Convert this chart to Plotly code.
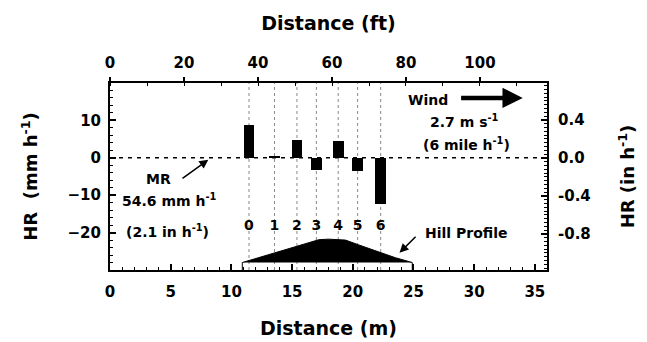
import plotly.graph_objects as go

# ---------------- data ----------------
bar_labels = ["0", "1", "2", "3", "4", "5", "6"]
bar_x_m = [11.45, 13.55, 15.4, 17.0, 18.8, 20.4, 22.3]
hr_mm_h = [8.7, 0.3, 4.8, -3.2, 4.4, -3.5, -12.4]

hill_x_m = [10.9, 12.5, 14.0, 15.5, 16.5, 17.2, 18.0, 18.8, 19.4, 20.5, 22.0, 23.5, 24.9]
hill_y = [-28.0, -26.4, -24.9, -23.4, -22.4, -21.9, -21.75, -21.8, -22.0, -23.3, -25.1, -26.7, -28.0]

x_m_ticks = [0, 5, 10, 15, 20, 25, 30, 35]
x_ft_ticks = [0, 20, 40, 60, 80, 100]
y_mm_ticks = [-20, -10, 0, 10]
y_in_ticks = [-0.8, -0.4, 0.0, 0.4]
y_in_labels = ["-0.8", "-0.4", "0.0", "0.4"]

x_range_m = [0, 36]
y_range_mm = [-30, 20]
M_PER_FT = 0.3048
MM_PER_IN = 25.4

FONT = "DejaVu Sans"
BLACK = "black"

fig = go.Figure()

# hill profile
fig.add_trace(go.Scatter(
    x=hill_x_m, y=hill_y, mode="lines", fill="toself",
    fillcolor=BLACK, line=dict(color=BLACK, width=1),
    hoverinfo="skip", showlegend=False))
# hill base edges down to ground
fig.add_trace(go.Scatter(
    x=[hill_x_m[0], hill_x_m[0], None, hill_x_m[-1], hill_x_m[-1]],
    y=[hill_y[0], y_range_mm[0], None, hill_y[-1], y_range_mm[0]],
    mode="lines", line=dict(color=BLACK, width=1),
    hoverinfo="skip", showlegend=False))

# bars
fig.add_trace(go.Bar(
    x=bar_x_m, y=hr_mm_h, width=0.88, marker=dict(color=BLACK, line=dict(width=0)),
    showlegend=False))

# bar number labels
fig.add_trace(go.Scatter(
    x=bar_x_m, y=[-18.4] * len(bar_x_m), mode="text", text=bar_labels,
    textfont=dict(family=FONT, size=14, color=BLACK, weight="bold"),
    hoverinfo="skip", showlegend=False))

# invisible trace to activate secondary axes (ft / in h-1)
fig.add_trace(go.Scatter(
    x=[b / M_PER_FT for b in bar_x_m], y=[v / MM_PER_IN for v in hr_mm_h],
    xaxis="x2", yaxis="y2", mode="markers", marker=dict(opacity=0),
    hoverinfo="skip", showlegend=False))

shapes = []
for bx in bar_x_m:
    shapes.append(dict(type="line", xref="x", yref="paper", x0=bx, x1=bx, y0=0, y1=1,
                       line=dict(color="#888888", width=1, dash="dot"), layer="below"))
shapes.append(dict(type="line", xref="paper", yref="y", x0=0, x1=1, y0=0, y1=0,
                   line=dict(color=BLACK, width=1.5, dash="4px,5px"), layer="below"))

ann_font = dict(family=FONT, size=14, color=BLACK, weight="bold")
annotations = [
    # MR
    dict(x=8.1, y=-0.5, ax=5.85, ay=-5.8, axref="x", ayref="y", xref="x", yref="y",
         text="", showarrow=True, arrowhead=2, arrowsize=1.2, arrowwidth=1.5, arrowcolor=BLACK),
    dict(x=5.15, y=-5.6, xref="x", yref="y", text="MR", showarrow=False,
         xanchor="right", font=ann_font),
    dict(x=4.9, y=-11.3, xref="x", yref="y", text="54.6 mm h<sup>-1</sup>", showarrow=False,
         font=ann_font),
    dict(x=4.7, y=-19.5, xref="x", yref="y", text="(2.1 in h<sup>-1</sup>)", showarrow=False,
         font=ann_font),
    # Wind
    dict(x=26.2, y=15.4, xref="x", yref="y", text="Wind", showarrow=False, font=ann_font),
    dict(x=34.0, y=16.0, ax=28.8, ay=16.0, axref="x", ayref="y", xref="x", yref="y",
         text="", showarrow=True, arrowhead=2, arrowsize=0.9, arrowwidth=4.5, arrowcolor=BLACK),
    dict(x=29.2, y=9.9, xref="x", yref="y", text="2.7 m s<sup>-1</sup>", showarrow=False,
         font=ann_font),
    dict(x=29.4, y=3.7, xref="x", yref="y", text="(6 mile h<sup>-1</sup>)", showarrow=False,
         font=ann_font),
    # Hill profile
    dict(x=29.3, y=-20.2, xref="x", yref="y", text="Hill Profile", showarrow=False,
         font=ann_font),
    dict(x=23.85, y=-25.4, ax=25.3, ay=-20.7, axref="x", ayref="y", xref="x", yref="y",
         text="", showarrow=True, arrowhead=2, arrowsize=1.2, arrowwidth=1.5, arrowcolor=BLACK),
]

tickfont = dict(family=FONT, size=15, color=BLACK, weight="bold")
xtitlefont = dict(family=FONT, size=19, color=BLACK, weight="bold")
ytitlefont = dict(family=FONT, size=18, color=BLACK, weight="bold")

common = dict(showgrid=False, zeroline=False, showline=True, linecolor=BLACK, linewidth=2,
              tickcolor=BLACK, tickwidth=1.5, tickfont=tickfont)

# page body has an 8px margin, so the figure is sized to fit the 647x342 window
fig.update_layout(
    width=639, height=334,
    margin=dict(l=102, r=100, t=75, b=72, autoexpand=False),
    paper_bgcolor="white", plot_bgcolor="white",
    font=dict(family=FONT, color=BLACK),
    bargap=0,
    shapes=shapes,
    annotations=annotations,
    xaxis=dict(range=x_range_m, tickvals=x_m_ticks, ticks="inside", ticklen=6,
               minor=dict(dtick=1, ticks="inside", ticklen=3, tickcolor=BLACK, tickwidth=1),
               title=dict(text="Distance (m)", font=xtitlefont, standoff=22),
               ticklabelstandoff=7, side="bottom", **common),
    xaxis2=dict(range=[r / M_PER_FT for r in x_range_m], tickvals=x_ft_ticks,
                ticks="outside", ticklen=4, overlaying="x", side="top", anchor="y2",
                minor=dict(dtick=10, ticks="inside", ticklen=3, tickcolor=BLACK, tickwidth=1),
                title=dict(text="Distance (ft)", font=xtitlefont, standoff=18),
                ticklabelstandoff=3, **common),
    yaxis=dict(range=y_range_mm, tickvals=y_mm_ticks, ticks="inside", ticklen=6,
               minor=dict(dtick=2, ticks="inside", ticklen=3, tickcolor=BLACK, tickwidth=1),
               title=dict(text="HR  (mm h<sup>-1</sup>)", font=ytitlefont, standoff=25),
               ticklabelstandoff=4, **common),
    yaxis2=dict(range=[r / MM_PER_IN for r in y_range_mm], tickvals=y_in_ticks,
                ticktext=y_in_labels, ticks="inside", ticklen=6, overlaying="y", side="right",
                anchor="x2",
                minor=dict(dtick=0.04, ticks="inside", ticklen=3, tickcolor=BLACK, tickwidth=1),
                title=dict(text="HR (in h<sup>-1</sup>)", font=ytitlefont, standoff=32),
                ticklabelstandoff=6, **common),
)

fig.write_html("out.html")
